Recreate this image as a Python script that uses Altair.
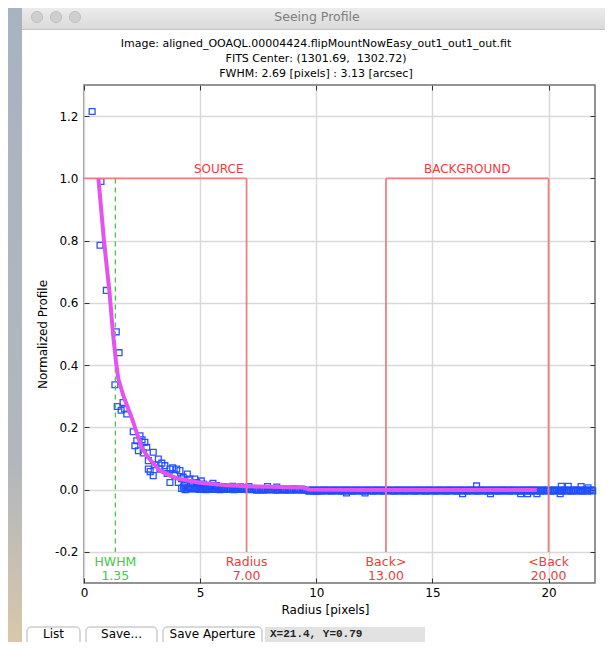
import altair as alt
import pandas as pd

FONT = "DejaVu Sans"

# ---------------- data ----------------
title_lines = [
    "Image: aligned_OOAQL.00004424.flipMountNowEasy_out1_out1_out.fit",
    "FITS Center: (1301.69,\u00a0 1302.72)",
    "FWHM: 2.69 [pixels] : 3.13 [arcsec]",
]
x_title = "Radius [pixels]"
y_title = "Normalized Profile"
x_ticks = [0, 5, 10, 15, 20]
y_ticks = [-0.2, 0.0, 0.2, 0.4, 0.6, 0.8, 1.0, 1.2]

core_r = [0.35, 0.73, 0.69, 0.96, 1.39, 1.51, 1.33, 1.43, 1.68, 1.75, 1.84, 1.60,
          2.12, 2.27, 2.19, 2.41, 2.34, 2.50, 2.62, 2.70, 2.55, 2.77, 2.98, 3.20,
          2.77, 2.85, 2.98, 3.05, 3.27, 3.35, 3.48, 3.58, 3.70, 3.70, 3.82, 3.91,
          3.99, 4.06, 4.13, 4.20, 4.27, 4.34, 4.45, 4.56, 4.65, 4.77, 4.85, 4.95,
          5.05, 5.13, 5.25, 5.42, 5.55, 5.70, 5.85]
core_y = [1.215, 0.99, 0.785, 0.64, 0.507, 0.44, 0.337, 0.267, 0.28, 0.259, 0.243, 0.255,
          0.186, 0.157, 0.141, 0.173, 0.125, 0.16, 0.152, 0.136, 0.118, 0.093, 0.12, 0.098,
          0.066, 0.058, 0.045, 0.08, 0.066, 0.085, 0.077, 0.052, 0.066, 0.023, 0.07, 0.045,
          0.066, 0.023, 0.061, 0.035, 0.04, 0.013, 0.05, 0.034, 0.02, 0.034, 0.023, 0.012,
          0.028, 0.018, 0.008, 0.013, 0.02, 0.013, 0.005]

tail_r = [4.20, 4.35, 4.50, 4.65, 4.80, 4.95, 5.10, 5.25, 5.40, 5.55,
          5.70, 5.85, 6.00, 6.15, 6.30, 6.45, 6.60, 6.75, 6.90, 7.05,
          7.20, 7.35, 7.50, 7.65, 7.80, 7.95, 8.10, 8.25, 8.40, 8.55,
          8.70, 8.85, 9.00, 9.15, 9.30, 9.45, 9.60, 9.75, 9.90, 10.05,
          10.20, 10.35, 10.50, 10.65, 10.80, 10.95, 11.10, 11.25, 11.40, 11.55,
          11.70, 11.85, 12.00, 12.15, 12.30, 12.45, 12.60, 12.75, 12.90, 13.05,
          13.20, 13.35, 13.50, 13.65, 13.80, 13.95, 14.10, 14.25, 14.40, 14.55,
          14.70, 14.85, 15.00, 15.15, 15.30, 15.45, 15.60, 15.75, 15.90, 16.05,
          16.20, 16.35, 16.50, 16.65, 16.80, 16.95, 17.10, 17.25, 17.40, 17.55,
          17.70, 17.85, 18.00, 18.15, 18.30, 18.45, 18.60, 18.75, 18.90, 19.05,
          19.20, 19.35, 19.50, 19.65, 19.80, 19.95, 20.10, 20.25, 20.40, 20.55,
          20.70, 20.85, 21.00, 21.15, 21.30, 21.45, 21.60, 21.75, 21.90]
tail_y = [0.004, 0.000, 0.006, 0.002, 0.005, 0.001, 0.004, 0.000, 0.003, 0.001,
          0.004, 0.000, 0.003, 0.001, 0.004, 0.000, 0.003, 0.001, 0.002, 0.000,
          0.002, 0.000, 0.001, -0.001, 0.001, 0.000, 0.001, -0.001, 0.000, 0.001,
          -0.001, 0.000, 0.001, -0.001, 0.000, -0.001, -0.002, -0.004, -0.002, -0.003,
          -0.004, -0.002, -0.003, -0.004, -0.002, -0.003, -0.004, -0.002, -0.003, -0.004,
          -0.002, -0.003, -0.004, -0.002, -0.003, -0.004, -0.002, -0.003, -0.004, -0.002,
          -0.003, -0.004, -0.002, -0.003, -0.004, -0.002, -0.003, -0.004, -0.002, -0.003,
          -0.004, -0.002, -0.003, -0.004, -0.002, -0.003, -0.004, -0.002, -0.003, -0.004,
          -0.002, -0.003, -0.004, -0.002, -0.003, -0.004, -0.002, -0.003, -0.004, -0.002,
          -0.003, -0.004, -0.002, -0.003, -0.004, -0.002, -0.003, -0.004, -0.002, -0.003,
          -0.004, -0.002, -0.003, -0.004, -0.002, -0.003, -0.004, -0.002, -0.003, -0.004,
          -0.002, -0.003, -0.004, -0.002, -0.003, -0.004, -0.002, -0.003, -0.004]

tail2_r = [4.28, 4.43, 4.58, 4.73, 4.88, 5.03, 5.18, 5.33, 5.48, 5.63,
           5.78, 5.93, 6.08, 6.23, 6.38, 6.53, 6.68, 6.83, 6.98, 7.13,
           7.28, 7.43, 7.58, 7.73, 7.88, 8.03, 8.18, 8.33, 8.48, 8.63,
           8.78, 8.93, 9.08, 9.23, 9.38, 9.53, 9.68, 9.83, 9.98, 10.13,
           10.28, 10.43, 10.58, 10.73, 10.88, 11.03, 11.18, 11.33, 11.48, 11.63,
           11.78, 11.93, 12.08, 12.23, 12.38, 12.53, 12.68, 12.83, 12.98, 13.13,
           13.28, 13.43, 13.58, 13.73, 13.88, 14.03, 14.18, 14.33, 14.48, 14.63,
           14.78, 14.93, 15.08, 15.23, 15.38, 15.53, 15.68, 15.83, 15.98, 16.13,
           16.28, 16.43, 16.58, 16.73, 16.88, 17.03, 17.18, 17.33, 17.48, 17.63,
           17.78, 17.93, 18.08, 18.23, 18.38, 18.53, 18.68, 18.83, 18.98, 19.13,
           19.28, 19.43, 19.58, 19.73, 19.88, 20.03, 20.18, 20.33, 20.48, 20.63,
           20.78, 20.93, 21.08, 21.23, 21.38, 21.53, 21.68, 21.83]
tail2_y = [0.008, 0.002, 0.009, 0.003, 0.007, 0.002, 0.008, 0.003, 0.007, 0.002,
           0.007, 0.002, 0.006, 0.003, 0.007, 0.002, 0.006, 0.002, 0.005, 0.002,
           0.004, -0.002, 0.003, -0.002, 0.003, -0.001, 0.002, -0.002, 0.003, -0.002,
           0.002, -0.002, 0.003, -0.001, 0.002, -0.002, -0.005, -0.001, -0.006, -0.001,
           -0.005, -0.001, -0.005, -0.001, -0.005, -0.001, -0.005, -0.001, -0.005, -0.001,
           -0.005, -0.001, -0.005, -0.001, -0.005, -0.001, -0.005, -0.001, -0.005, -0.001,
           -0.005, -0.001, -0.005, -0.001, -0.005, -0.001, -0.005, -0.001, -0.005, -0.001,
           -0.005, -0.001, -0.005, -0.001, -0.005, -0.001, -0.005, -0.001, -0.005, -0.001,
           -0.005, -0.001, -0.005, -0.001, -0.005, -0.001, -0.005, -0.001, -0.005, -0.001,
           -0.005, -0.001, -0.005, -0.001, -0.005, -0.001, -0.005, -0.001, -0.005, -0.001,
           -0.005, -0.001, -0.005, -0.001, -0.005, -0.001, -0.005, -0.001, -0.005, -0.001,
           -0.005, -0.001, -0.005, -0.001, -0.005, -0.001, -0.005, -0.001]

extra_r = [5.00, 5.35, 5.70, 6.05, 6.40, 6.75, 7.10, 7.90, 8.30, 11.30, 12.10,
           16.30, 16.90, 17.50, 18.80, 19.10, 19.50, 20.50, 20.55, 20.85, 21.40, 21.70]
extra_y = [0.013, 0.011, 0.012, 0.010, 0.011, 0.009, 0.010, 0.010, 0.008, -0.011, -0.011,
           -0.013, 0.012, -0.013, -0.013, -0.013, -0.013, -0.013, 0.011, 0.011, 0.010, 0.006]

fit_r = [0.62, 0.86, 1.09, 1.25, 1.38, 1.48, 1.72, 2.05, 2.48, 2.80, 3.27, 3.70,
         4.13, 5.00, 6.00, 7.00, 8.00, 9.40, 9.70, 12.00, 15.00, 19.50]
fit_y = [1.0, 0.80, 0.64, 0.50, 0.41, 0.355, 0.296, 0.232, 0.136, 0.10, 0.061, 0.045,
         0.034, 0.022, 0.015, 0.011, 0.009, 0.007, 0.0, -0.001, -0.001, -0.001]

# aperture outline segments
seg_x1 = [0, 7, 13, 13, 20]
seg_x2 = [7, 7, 13, 20, 20]
seg_y1 = [1.0, 1.0, -0.2, 1.0, 1.0]
seg_y2 = [1.0, -0.2, 1.0, 1.0, -0.2]

box_names = ["SOURCE", "BACKGROUND"]
box_name_x = [5.8, 16.5]
box_name_y = [1.0, 1.0]

hwhm_x = [1.35]
hwhm_y1 = [1.0]
hwhm_y2 = [-0.2]

marker_names = ["HWHM", "Radius", "Back>", "<Back"]
marker_values = ["1.35", "7.00", "13.00", "20.00"]
marker_x = [1.35, 7.0, 13.0, 20.0]
marker_kind = ["hwhm", "aperture", "aperture", "aperture"]

window_title = "Seeing Profile"
button_labels = ["List", "Save...", "Save Aperture"]
status_text = "X=21.4, Y=0.79"

# ---------------- tables ----------------
pts = pd.DataFrame({
    "r": core_r + tail_r + tail2_r + extra_r,
    "v": core_y + tail_y + tail2_y + extra_y,
})
fit = pd.DataFrame({"r": fit_r, "v": fit_y})
segs = pd.DataFrame({"x1": seg_x1, "x2": seg_x2, "y1": seg_y1, "y2": seg_y2})
boxlab = pd.DataFrame({"name": box_names, "r": box_name_x, "v": box_name_y})
hwhm = pd.DataFrame({"r": hwhm_x, "y1": hwhm_y1, "y2": hwhm_y2})
marks = pd.DataFrame({"name": marker_names, "val": marker_values,
                      "r": marker_x, "kind": marker_kind})
one = pd.DataFrame({"k": [0]})

xs = alt.Scale(domain=[0, 22], nice=False, zero=False)
ys = alt.Scale(domain=[-0.3, 1.3], nice=False, zero=False)

RED_LINE = "#ef8080"
RED_TEXT = "#f03c3c"
GREEN = "#46c846"
BLUE = "#1f4dff"
MAGENTA = "#e452f0"

common_axis = dict(tickSize=5, tickColor="#333333", tickWidth=1, domain=False,
                   labelFont=FONT, labelFontSize=12, labelColor="black",
                   titleFont=FONT, titleFontSize=12, titleFontWeight="normal",
                   titleColor="black", gridColor="#d9d9d9", gridWidth=1.5)

x_main = alt.Axis(values=x_ticks, title=x_title, orient="bottom", offset=-5,
                  grid=True, labelPadding=4, labelFlush=False,
                  titleX=241, titleY=31, titleBaseline="middle", **common_axis)
y_main = alt.Axis(values=y_ticks, title=y_title, orient="left", offset=-5,
                  grid=True, labelPadding=6,
                  labelExpr="replace(format(datum.value, '.1f'), '\u2212', '-')",
                  titleX=-40, **common_axis)
x_top = alt.Axis(values=x_ticks, title=None, orient="top", offset=-5, grid=False,
                 labels=False, **common_axis)
y_right = alt.Axis(values=y_ticks, title=None, orient="right", offset=-5, grid=False,
                   labels=False, **common_axis)

# ---------------- window decoration ----------------
def rect_layer(x, x2, y, y2, **kw):
    return alt.Chart(one).mark_rect(**kw).encode(
        x=alt.value(x), x2=alt.value(x2), y=alt.value(y), y2=alt.value(y2))

side_strip = rect_layer(-76, -62, -77, 557, color=alt.LinearGradient(
    gradient="linear", x1=0, y1=0, x2=0, y2=1,
    stops=[alt.GradientStop(color="#a8b3c1", offset=0),
           alt.GradientStop(color="#b2b7bd", offset=0.72),
           alt.GradientStop(color="#d8c7aa", offset=1)]))
title_bar = rect_layer(-62, 521, -77, -55, color=alt.LinearGradient(
    gradient="linear", x1=0, y1=0, x2=0, y2=1,
    stops=[alt.GradientStop(color="#ececec", offset=0),
           alt.GradientStop(color="#d9d9d9", offset=1)]))
title_bar_line = rect_layer(-62, 521, -56, -55, color="#c4c4c4")

lights = alt.layer(*[
    alt.Chart(one).mark_point(shape="circle", filled=True, size=125, fill="#cfcfcf",
                              stroke="#b9b9b9", strokeWidth=0.8, opacity=1).encode(
        x=alt.value(px), y=alt.value(-68))
    for px in (-47, -28, -9)
])
bar_text = alt.Chart(one).mark_text(font=FONT, fontSize=12.5, color="#7d7d7d",
                                    align="center", baseline="middle").encode(
    x=alt.value(233), y=alt.value(-68), text=alt.value(window_title))

# chart title (three centred lines, 15 px apart)
heading = alt.layer(*[
    alt.Chart(one).mark_text(font=FONT, fontSize=11, color="black",
                             align="center", baseline="middle").encode(
        x=alt.value(232), y=alt.value(py), text=alt.value(line))
    for py, line in zip((-41, -26, -11), title_lines)
])

btn_boxes = [(-57, -4), (2, 73), (79, 178)]
buttons = alt.layer(*[
    rect_layer(a, b, 542, 566, fill="white", stroke="#b3b3b3", strokeWidth=1,
               cornerRadius=4)
    for a, b in btn_boxes
] + [
    alt.Chart(one).mark_text(font=FONT, fontSize=12, color="black",
                             align="center", baseline="middle").encode(
        x=alt.value((a + b) / 2), y=alt.value(549), text=alt.value(lbl))
    for (a, b), lbl in zip(btn_boxes, button_labels)
])
status_box = rect_layer(181, 341, 542, 562, fill="#e2e2e2")
status_lbl = alt.Chart(one).mark_text(font="Liberation Mono", fontSize=11,
                                      fontWeight="bold", color="#222222",
                                      align="left", baseline="middle").encode(
    x=alt.value(186), y=alt.value(549), text=alt.value(status_text))

# ---------------- plot layers ----------------
scatter = alt.Chart(pts).mark_point(shape="square", filled=False, size=34,
                                    strokeWidth=1.3, color=BLUE, opacity=0.95).encode(
    x=alt.X("r:Q", scale=xs, axis=x_main),
    y=alt.Y("v:Q", scale=ys, axis=y_main),
)

rules = alt.Chart(segs).mark_rule(color=RED_LINE, strokeWidth=1.8).encode(
    x=alt.X("x1:Q", scale=xs, axis=x_top), x2="x2:Q",
    y=alt.Y("y1:Q", scale=ys, axis=y_right), y2="y2:Q",
)

hwhm_rule = alt.Chart(hwhm).mark_rule(color=GREEN, strokeWidth=1.3,
                                      strokeDash=[5, 4]).encode(
    x=alt.X("r:Q", scale=xs, axis=None),
    y=alt.Y("y1:Q", scale=ys, axis=None), y2="y2:Q",
)

fit_line = alt.Chart(fit).mark_line(color=MAGENTA, strokeWidth=4,
                                    strokeJoin="round").encode(
    x=alt.X("r:Q", scale=xs, axis=None),
    y=alt.Y("v:Q", scale=ys, axis=None),
)

box_text = alt.Chart(boxlab).mark_text(font=FONT, fontSize=12, color=RED_TEXT,
                                       baseline="middle", dy=-9).encode(
    x=alt.X("r:Q", scale=xs, axis=None),
    y=alt.Y("v:Q", scale=ys, axis=None),
    text="name:N",
)

mark_color = alt.Color("kind:N", scale=alt.Scale(domain=["hwhm", "aperture"],
                                                 range=[GREEN, RED_TEXT]), legend=None)
mark_names = alt.Chart(marks).mark_text(font=FONT, fontSize=12.5,
                                        baseline="middle").encode(
    x=alt.X("r:Q", scale=xs, axis=None), y=alt.value(477),
    text="name:N", color=mark_color,
)
mark_vals = alt.Chart(marks).mark_text(font=FONT, fontSize=12.5,
                                       baseline="middle").encode(
    x=alt.X("r:Q", scale=xs, axis=None), y=alt.value(491),
    text="val:N", color=mark_color,
)

chart = alt.layer(
    side_strip, title_bar, title_bar_line, lights, bar_text, heading,
    scatter, rules, hwhm_rule, fit_line, box_text, mark_names, mark_vals,
    buttons, status_box, status_lbl,
).resolve_axis(
    x="independent", y="independent"
).properties(
    width=511, height=498,
    autosize=alt.AutoSizeParams(type="none"),
    padding={"left": 76, "top": 77, "right": 10, "bottom": 59},
    background="white",
).configure_view(stroke="#707070", strokeWidth=1.5)

chart.save("out.html", embed_options={"renderer": "svg", "actions": False})
